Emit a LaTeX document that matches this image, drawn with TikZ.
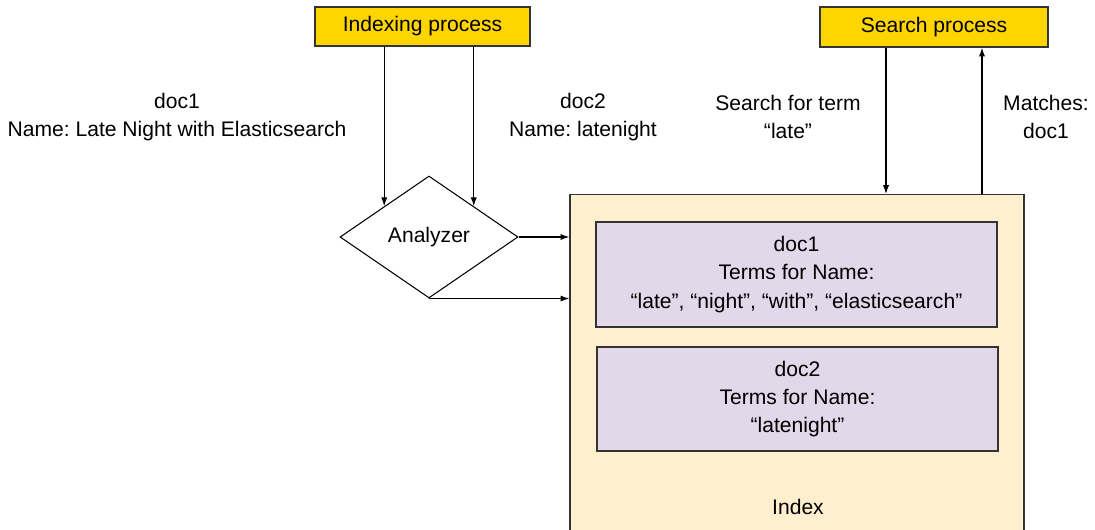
\documentclass[tikz,border=0pt]{standalone}
\usepackage{fontspec}
\setmainfont{Liberation Sans}
\usepackage{tikz}
\usetikzlibrary{positioning,shapes.geometric,arrows.meta}

\definecolor{procyellow}{HTML}{FFD500}
\definecolor{indexcream}{HTML}{FEEFCF}
\definecolor{termlilac}{HTML}{E3D7EA}
\definecolor{edgegray}{HTML}{333333}
\frenchspacing

\begin{document}
\begin{tikzpicture}[
  font=\fontsize{12}{16}\selectfont,
  >={Latex[length=5pt,width=3.5pt]},
  process/.style={rectangle,draw=edgegray,line width=0.8pt,fill=procyellow},
  termbox/.style={rectangle,draw=edgegray,line width=0.8pt,fill=termlilac,align=center,minimum width=8.02cm,minimum height=2.1cm},
  flow/.style={->,line width=0.6pt}
]
  \useasboundingbox (0,0) rectangle (21.9,10.58);
  %Nodes
  \node at (8.45,10.05) [process,minimum width=4.3cm,minimum height=0.78cm] (indexing) {Indexing process};
  \node at (18.68,10.04) [process,minimum width=4.56cm,minimum height=0.8cm] (search) {Search process};
  \node at (8.58,5.84) [diamond,draw=black,line width=0.6pt,inner sep=0pt,minimum width=3.56cm,minimum height=2.44cm] (analyzer) {Analyzer};
  \node at (15.94,6.7) [anchor=north,rectangle,draw=edgegray,line width=0.8pt,fill=indexcream,minimum width=9.08cm,minimum height=6.95cm] (index) {};
  \node at (15.93,5.09) [termbox] (terms1) {doc1\\Terms for Name:\\“late”, “night”, “with”, “elasticsearch”};
  \node at (15.95,2.6) [termbox,minimum height=2.08cm] (terms2) {doc2\\Terms for Name:\\“latenight”};
  \node at (15.96,0.44) (indexlabel) {Index};

  %Labels
  \node at (3.54,8.24) [align=center] (doc1label) {doc1\\Name: Late Night with Elasticsearch};
  \node at (11.66,8.24) [align=center] (doc2label) {doc2\\Name: latenight};
  \node at (15.76,8.24) [align=center] (searchlabel) {Search for term\\“late”};
  \node at (20.92,8.24) [align=center] (matchlabel) {Matches:\\doc1};

  %Lines
  \draw[flow] (indexing.south -| analyzer.north west) -- (analyzer.north west);
  \draw[flow] (indexing.south -| analyzer.north east) -- (analyzer.north east);
  \draw[flow] (analyzer.east) -- (analyzer.east -| index.west);
  \draw[flow] (analyzer.south) -- (analyzer.south -| index.west);
  \draw[flow] ([xshift=-9.6mm]search.south) -- ([xshift=-9.6mm]search.south |- index.north);
  \draw[flow] ([xshift=9.6mm]search.south |- index.north) -- ([xshift=9.6mm]search.south);
\end{tikzpicture}
\end{document}
